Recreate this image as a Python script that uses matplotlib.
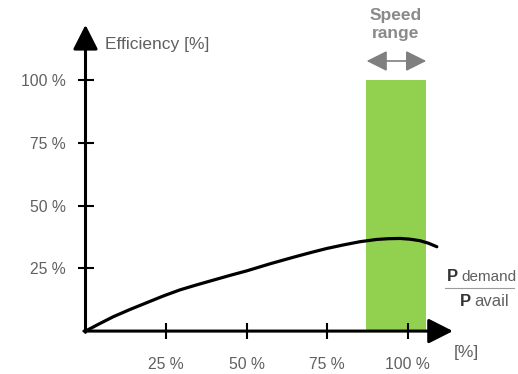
import matplotlib
matplotlib.use("Agg")
import matplotlib.pyplot as plt

# values (percent)
load_pct = [0, 4.3, 8.6, 13.8, 19.0, 24.2, 29.3, 34.5, 39.7, 44.9, 50.1, 57.3,
            64.5, 69.7, 74.9, 80.0, 85.2, 90.4, 94.0, 97.7, 100.8, 103.9, 106.5, 109.1]
efficiency_pct = [0, 2.9, 5.7, 8.6, 11.3, 14.0, 16.4, 18.4, 20.3, 22.2, 24.0, 26.8,
                  29.4, 31.2, 32.9, 34.3, 35.6, 36.5, 36.8, 36.9, 36.6, 36.0, 35.0, 33.6]

speed_range = (87.1, 105.7)
speed_range_top = 100

x_ticks = [25, 50, 75, 100]
y_ticks = [25, 50, 75, 100]
x_tick_labels = ["25 %", "50 %", "75 %", "100 %"]
y_tick_labels = ["25 %", "50 %", "75 %", "100 %"]

plt.rcParams['font.family'] = ['Liberation Sans', 'DejaVu Sans']

fig = plt.figure(figsize=(5.18, 3.74), dpi=100)
ax = fig.add_axes([0, 0, 1, 1])
ax.set_xlim(-26.55, 134.3)
ax.set_ylim(-17.1, 131.9)

green = '#92d050'
grey_text = '#606060'

# speed range band
ax.bar((speed_range[0] + speed_range[1]) / 2, speed_range_top,
       width=speed_range[1] - speed_range[0], color=green, zorder=1)

# efficiency curve
ax.plot(load_pct, efficiency_pct, color='black', lw=2.3,
        solid_capstyle='round', solid_joinstyle='round', zorder=3)

# axes with arrow heads
arrow = dict(arrowstyle='-|>,head_length=0.75,head_width=0.38',
             lw=2.2, color='black', mutation_scale=20, shrinkA=0, shrinkB=0)
ax.annotate('', xy=(0, 122), xytext=(0, -0.5), arrowprops=arrow, zorder=4)
ax.annotate('', xy=(114.1, 0), xytext=(-0.5, 0), arrowprops=arrow, zorder=4)

for side in ['top', 'right', 'left', 'bottom']:
    ax.spines[side].set_visible(False)
ax.spines['left'].set_position(('data', 0))
ax.spines['bottom'].set_position(('data', 0))

ax.set_xticks(x_ticks)
ax.set_xticklabels(x_tick_labels)
ax.set_yticks(y_ticks)
ax.set_yticklabels(y_tick_labels)
ax.tick_params(axis='both', direction='inout', length=11.5, width=1.5,
               color='black', labelcolor=grey_text, labelsize=11.3)
ax.tick_params(axis='y', pad=8.5)
ax.tick_params(axis='x', pad=13)

# labels
ax.text(6, 114, 'Efficiency [%]', fontsize=12.5, color=grey_text,
        ha='left', va='center')
ax.text(96.4, 125.9, 'Speed', fontsize=12.5, color='#8a8a8a',
        fontweight='bold', ha='center', va='center')
ax.text(96.4, 116.9, 'range', fontsize=12.5, color='#8a8a8a',
        fontweight='bold', ha='center', va='baseline')
ax.annotate('', xy=(105.8, 107.6), xytext=(87.3, 107.6),
            arrowprops=dict(arrowstyle='<|-|>,head_length=0.9,head_width=0.45',
                            lw=1.2, color='#7f7f7f', mutation_scale=14,
                            shrinkA=0, shrinkB=0))

ax.text(112.3, 21.6, 'P', fontsize=12, fontweight='bold', color='#333333',
        ha='left', va='center')
ax.text(116.6, 21.6, 'demand', fontsize=11, color=grey_text,
        ha='left', va='center')
ax.plot([111.7, 133], [17.1, 17.1], color='#9a9a9a', lw=0.8, clip_on=False)
ax.text(116.3, 11.6, 'P', fontsize=12, fontweight='bold', color='#333333',
        ha='left', va='center')
ax.text(120.7, 11.6, 'avail', fontsize=12, color=grey_text,
        ha='left', va='center')

ax.text(114.3, -8.4, '[%]', fontsize=12.5, color=grey_text, ha='left', va='center')

fig.savefig('out.png', dpi=100)
